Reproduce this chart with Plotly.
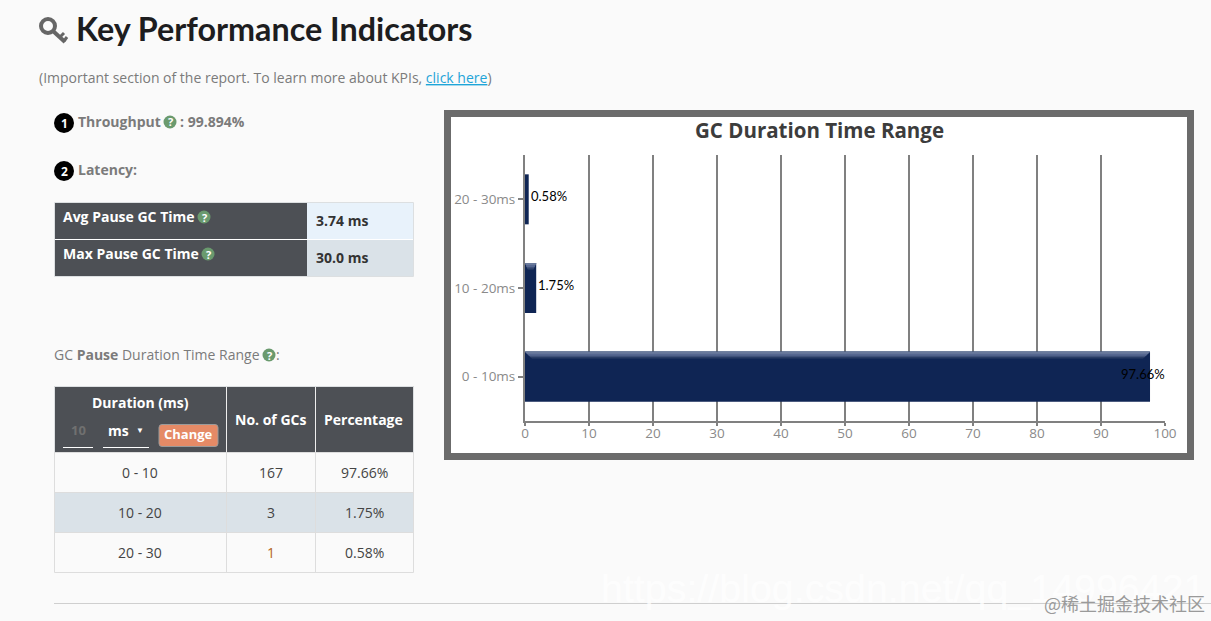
import plotly.graph_objects as go

W, H = 1211, 621
# ---- chart data ----
ranges = ["0 - 10ms", "10 - 20ms", "20 - 30ms"]
percent = [97.66, 1.75, 0.58]
x_ticks = [0, 10, 20, 30, 40, 50, 60, 70, 80, 90, 100]
# ---- table data ----
dur_rows = ["0 - 10", "10 - 20", "20 - 30"]
gc_counts = ["167", "3", "1"]
pct_rows = ["97.66%", "1.75%", "0.58%"]
kpi_names = ["Avg Pause GC Time", "Max Pause GC Time"]
kpi_values = ["3.74 ms", "30.0 ms"]

DARK = "#4d5055"; GREEN = "#6a9a6e"; GREY = "#7b7b7b"; BODY = "Open Sans"; BORDER = "#dcdfe1"
shapes, ann = [], []
px = lambda x: x / W
py = lambda y: 1 - y / H

def rect(x0, y0, x1, y1, fill, line=None, lw=1, layer="below"):
    shapes.append(dict(type="rect", xref="paper", yref="paper", x0=px(x0), x1=px(x1), y0=py(y0), y1=py(y1),
                       fillcolor=fill, line=dict(color=line or fill, width=lw if line else 0), layer=layer))

def seg(x0, y0, x1, y1, color, lw=1, layer="below"):
    shapes.append(dict(type="line", xref="paper", yref="paper", x0=px(x0), x1=px(x1), y0=py(y0), y1=py(y1),
                       line=dict(color=color, width=lw), layer=layer))

def circle(cx, cy, r, fill, line=None, lw=0):
    shapes.append(dict(type="circle", xref="paper", yref="paper", x0=px(cx - r), x1=px(cx + r), y0=py(cy + r), y1=py(cy - r),
                       fillcolor=fill, line=dict(color=line or fill, width=lw), layer="below"))

def txt(x, y, s, size=14, color="#333", anchor="left", family=BODY):
    ann.append(dict(xref="paper", yref="paper", x=px(x), y=py(y - 1), text=s, showarrow=False, xanchor=anchor,
                    yanchor="middle", font=dict(size=size, color=color, family=family), align=anchor, borderpad=0, borderwidth=0))

def help_icon(cx, cy):
    circle(cx, cy, 6.5, GREEN)
    txt(cx, cy + 1, "<b>?</b>", 11, "#ffffff", "center")

# heading
circle(48, 26, 7, "rgba(0,0,0,0)", "#666666", 4)
seg(53, 31, 65, 42, "#666666", 4)
seg(60, 37, 64, 33, "#666666", 3)
seg(64, 41, 67, 37, "#666666", 3)
txt(76, 30, "<b>Key Performance Indicators</b>", 32.3, "#1d1d1f", family="Lato")
txt(39, 78, '(Important section of the report. To learn more about KPIs, '
            '<span style="color:#1fa5d8"><u>click here</u></span>)', 14, GREY)

# KPI list
circle(64, 123, 10, "#000000")
txt(64, 124, "<b>1</b>", 12, "#ffffff", "center")
txt(78, 123, "<b>Throughput</b>", 14, GREY)
help_icon(170, 122)
txt(180, 123, "<b>: 99.894%</b>", 14, GREY)
circle(64, 171, 10, "#000000")
txt(64, 172, "<b>2</b>", 12, "#ffffff", "center")
txt(78, 170, "<b>Latency:</b>", 14, GREY)

# KPI table
rect(54.5, 202.5, 413.5, 276.5, "#ffffff", BORDER)
rows = [(202.5, 239.5, "#e8f2fb"), (239.5, 276.5, "#dae2e8")]
for i, (y0, y1, fill) in enumerate(rows):
    rect(55, y0 + .5, 307, y1 - .5, DARK)
    rect(307, y0 + .5, 413, y1 - .5, fill)
    txt(63, y0 + 14.5, f"<b>{kpi_names[i]}</b>", 14, "#ffffff")
    help_icon(204 if i == 0 else 208, y0 + 14.5)
    txt(315.5, y0 + 18.5, f"<b>{kpi_values[i]}</b>", 14, "#333333")

# duration table
txt(54, 355, 'GC <b>Pause</b> Duration Time Range', 14, GREY)
help_icon(269, 355)
txt(276, 355, ":", 14, GREY)
cols = [54.5, 226.5, 315.5, 413.5]
ys = [386.5, 452.5, 492.5, 532.5, 572.5]
rect(cols[0], ys[0], cols[3], ys[1], DARK)
rect(cols[0], ys[2], cols[3], ys[3], "#dae2e8")
for c in cols:
    seg(c, ys[1], c, ys[4], "#dddddd")
for c in (cols[1], cols[2]):
    seg(c, ys[0], c, ys[1], "#eeeeee")
seg(cols[0], ys[0], cols[0], ys[1], BORDER)
seg(cols[3], ys[0], cols[3], ys[1], BORDER)
seg(cols[0], ys[0], cols[3], ys[0], BORDER)
for y in ys[1:]:
    seg(cols[0], y, cols[3], y, "#dddddd")
txt(140, 403, "<b>Duration (ms)</b>", 14, "#ffffff", "center")
txt(78, 431, "<b>10</b>", 13, "#707070", "center")
seg(63, 447.5, 93, 447.5, "#ffffff")
txt(118, 431, "<b>ms</b>", 14, "#ffffff", "center")
txt(140, 430, "▼", 8, "#ffffff", "center")
seg(103, 447.5, 149, 447.5, "#ffffff")
shapes.append(dict(type="path", xref="paper", yref="paper", layer="below",
                   path=" ".join([f"M {px(162)} {py(424.5)}", f"L {px(215)} {py(424.5)}", f"Q {px(218)} {py(424.5)} {px(218)} {py(427.5)}",
                                  f"L {px(218)} {py(443.5)}", f"Q {px(218)} {py(446.5)} {px(215)} {py(446.5)}", f"L {px(162)} {py(446.5)}",
                                  f"Q {px(159)} {py(446.5)} {px(159)} {py(443.5)}", f"L {px(159)} {py(427.5)}", f"Q {px(159)} {py(424.5)} {px(162)} {py(424.5)} Z"]),
                   fillcolor="#e58a66", line=dict(color="#9a9a9a", width=1)))
txt(188.5, 435, "<b>Change</b>", 13, "#ffffff", "center")
txt(270.5, 420, "<b>No. of GCs</b>", 14, "#ffffff", "center")
txt(363.5, 420, "<b>Percentage</b>", 14, "#ffffff", "center")
for i in range(3):
    y = (ys[i + 1] + ys[i + 2]) / 2 + .5
    txt(140, y, dur_rows[i], 14, "#444444", "center")
    txt(270.5, y, gc_counts[i], 14, "#b5651d" if i == 2 else "#444444", "center")
    txt(364, y, pct_rows[i], 14, "#444444", "center")

seg(54, 603.5, 1211, 603.5, "#cfcfcf")

# chart panel
rect(447.5, 113.5, 1190.5, 456.5, "#ffffff", "#6b6b6b", 7)
txt(819, 131, "<b>GC Duration Time Range</b>", 20.5, "#3c3c3c", "center")

# bar bevels, built from the data on the chart's own axes
BAR_W = 0.564
for i, v in enumerate(percent):
    top = i + BAR_W / 2
    if v < 1:
        continue
    dx = min(1.1, v * 0.25)
    for h, col in [(0.079, "#22365f"), (0.062, "#3f5179"), (0.045, "#566790"), (0.024, "#6a7a9c")]:
        d = dx * h / 0.079
        shapes.append(dict(type="path", xref="x", yref="y", layer="above",
                           path=f"M 0 {top} L {v} {top} L {v - d} {top - h} L {d} {top - h} Z",
                           fillcolor=col, line=dict(width=0)))

fig = go.Figure(go.Bar(y=ranges, x=percent, orientation="h", width=BAR_W,
                       marker=dict(color="#0f2554", line=dict(width=0)), hoverinfo="skip"))

for i, v in enumerate(percent):
    ann.append(dict(xref="x", yref="y", x=v, y=ranges[i], text=f"{v:.2f}%", showarrow=False, xanchor="left",
                    xshift=-31 if v > 90 else 0, yshift=3, font=dict(size=13, color="#000000", family="Lato")))

# watermark
txt(1205, 589, "https://blog.csdn.net/qq_14996421", 39.4, "rgba(255,255,255,0.8)", "right", "Liberation Sans")
txt(1205, 604, "@稀土掘金技术社区", 18, "#9a9a9a", "right", "Noto Sans CJK SC")

fig.update_layout(
    width=W, height=H, margin=dict(l=0, r=0, t=0, b=0), autosize=False,
    paper_bgcolor="#fafafa", plot_bgcolor="rgba(0,0,0,0)", showlegend=False,
    shapes=shapes, annotations=ann,
    xaxis=dict(domain=[px(525), px(1165)], range=[0, 100], tickvals=x_ticks, showgrid=True, gridcolor="#808080", gridwidth=2,
               showline=True, linecolor="#808080", linewidth=2, ticks="outside", ticklen=3, tickcolor="#808080", tickwidth=2,
               ticklabelstandoff=-4, automargin=False,
               tickfont=dict(size=13.5, color="#8a8a8a", family=BODY), zeroline=False, fixedrange=True),
    yaxis=dict(domain=[py(421), py(155)], categoryorder="array", categoryarray=ranges, showgrid=False, automargin=False,
               showline=True, linecolor="#808080", linewidth=2, ticks="outside", ticklen=5, tickcolor="#808080", tickwidth=2,
               tickfont=dict(size=13.5, color="#8a8a8a", family=BODY), zeroline=False, fixedrange=True),
)
fig.write_html("out.html", config=dict(displayModeBar=False),
               post_script="document.body.style.margin='0';document.body.style.background='#fafafa';document.body.style.overflow='hidden';")
